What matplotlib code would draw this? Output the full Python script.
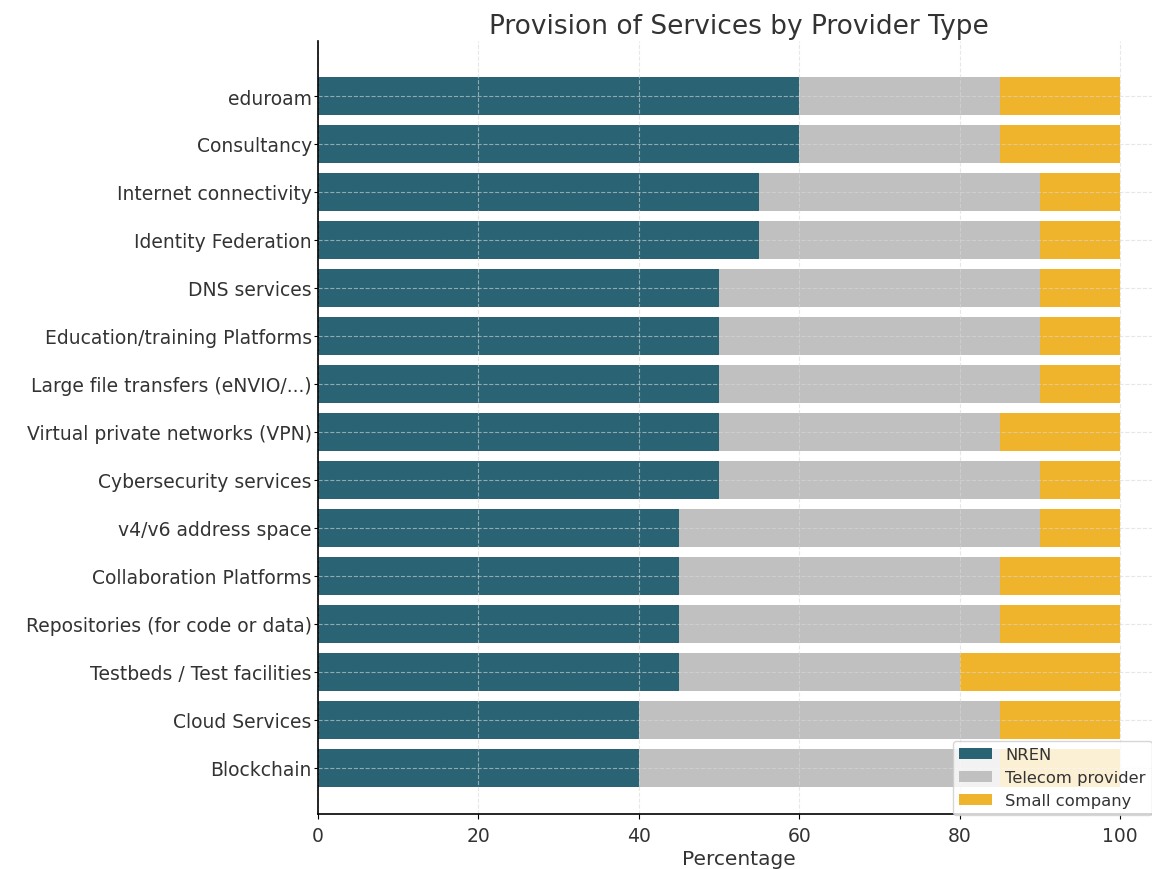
import matplotlib
matplotlib.use("Agg")
import matplotlib.pyplot as plt
import numpy as np

categories = [
    "eduroam", "Consultancy", "Internet connectivity", "Identity Federation",
    "DNS services", "Education/training Platforms", "Large file transfers (eNVIO/...)",
    "Virtual private networks (VPN)", "Cybersecurity services", "v4/v6 address space",
    "Collaboration Platforms", "Repositories (for code or data)",
    "Testbeds / Test facilities", "Cloud Services", "Blockchain",
]
nren = [60, 60, 55, 55, 50, 50, 50, 50, 50, 45, 45, 45, 45, 40, 40]
telecom = [25, 25, 35, 35, 40, 40, 40, 35, 40, 45, 40, 40, 35, 45, 45]
small = [15, 15, 10, 10, 10, 10, 10, 15, 10, 10, 15, 15, 20, 15, 15]
series_names = ["NREN", "Telecom provider", "Small company"]
colors = ["#2a6474", "#c0c0c0", "#f0b42c"]
text_color = "#333333"

W, H = 1152, 870
fig = plt.figure(figsize=(W / 100, H / 100), dpi=100)
x0, x1 = 318, 318 + 105 * 8.02
y_top, y_bot = 42, 815
ax = fig.add_axes([x0 / W, 1 - y_bot / H, (x1 - x0) / W, (y_bot - y_top) / H])

y = np.arange(len(categories))
nren_a = np.array(nren)
tel_a = np.array(telecom)
sm_a = np.array(small)
ax.barh(y, nren_a, height=0.8, color=colors[0], label=series_names[0])
ax.barh(y, tel_a, left=nren_a, height=0.8, color=colors[1], label=series_names[1])
ax.barh(y, sm_a, left=nren_a + tel_a, height=0.8, color=colors[2], label=series_names[2])

ax.set_yticks(y)
ax.set_yticklabels(categories, fontsize=13.5, color=text_color)
ax.set_xlim(0, 105)
ax.set_ylim(14.96, -1.146)
ax.set_xticks([0, 20, 40, 60, 80, 100])
ax.tick_params(axis="x", labelsize=13.5, labelcolor=text_color, pad=5)
ax.tick_params(axis="y", length=3, pad=1.5)
ax.set_xlabel("Percentage", fontsize=14.5, color=text_color, labelpad=3)
ax.set_title("Provision of Services by Provider Type", fontsize=19, color=text_color, pad=6)

ax.set_axisbelow(False)
ax.grid(True, linestyle="--", color="#d8d8d8", alpha=0.6, linewidth=0.8)
for s in ["top", "right"]:
    ax.spines[s].set_visible(False)
for s in ["left", "bottom"]:
    ax.spines[s].set_linewidth(1.2)
    ax.spines[s].set_zorder(4)

leg = ax.legend(loc="lower right", fontsize=11.8, framealpha=0.8, borderaxespad=0.0,
                bbox_to_anchor=(1152 / W, 1 - 816 / H), bbox_transform=fig.transFigure,
                labelspacing=0.5, borderpad=0.4)
for t in leg.get_texts():
    t.set_color(text_color)

fig.savefig("out.png", dpi=100)
